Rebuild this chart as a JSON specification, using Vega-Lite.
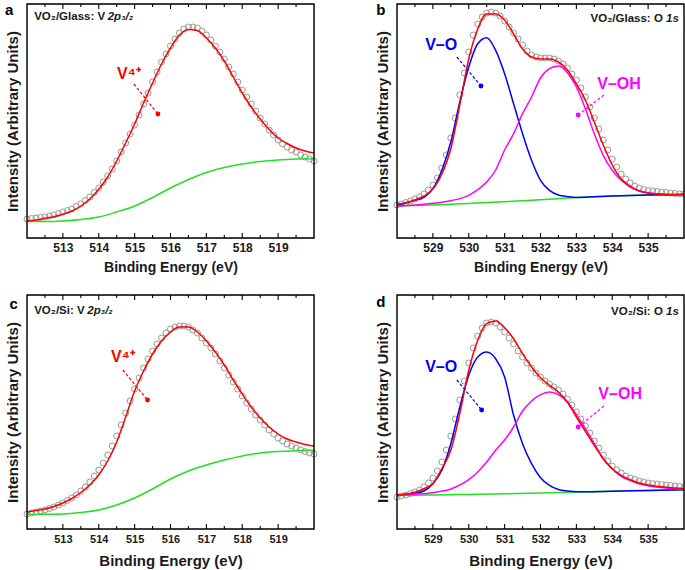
{
"$schema": "https://vega.github.io/schema/vega-lite/v6.json",
"padding": {"left": 4, "top": 2, "right": 0, "bottom": 0},
"autosize": {"type": "pad"},
"background": "white",
"config": {"font": "Liberation Sans"},
"datasets": {
"frame": [{"f": 1}],
"ticks": [
{"p":"a","x":513,"m":"M"},{"p":"a","x":514,"m":"M"},{"p":"a","x":515,"m":"M"},{"p":"a","x":516,"m":"M"},{"p":"a","x":517,"m":"M"},{"p":"a","x":518,"m":"M"},{"p":"a","x":519,"m":"M"},
{"p":"a","x":512.5,"m":"m"},{"p":"a","x":513.5,"m":"m"},{"p":"a","x":514.5,"m":"m"},{"p":"a","x":515.5,"m":"m"},{"p":"a","x":516.5,"m":"m"},{"p":"a","x":517.5,"m":"m"},{"p":"a","x":518.5,"m":"m"},{"p":"a","x":519.5,"m":"m"},
{"p":"c","x":513,"m":"M"},{"p":"c","x":514,"m":"M"},{"p":"c","x":515,"m":"M"},{"p":"c","x":516,"m":"M"},{"p":"c","x":517,"m":"M"},{"p":"c","x":518,"m":"M"},{"p":"c","x":519,"m":"M"},
{"p":"c","x":512.5,"m":"m"},{"p":"c","x":513.5,"m":"m"},{"p":"c","x":514.5,"m":"m"},{"p":"c","x":515.5,"m":"m"},{"p":"c","x":516.5,"m":"m"},{"p":"c","x":517.5,"m":"m"},{"p":"c","x":518.5,"m":"m"},{"p":"c","x":519.5,"m":"m"},
{"p":"b","x":529,"m":"M"},{"p":"b","x":530,"m":"M"},{"p":"b","x":531,"m":"M"},{"p":"b","x":532,"m":"M"},{"p":"b","x":533,"m":"M"},{"p":"b","x":534,"m":"M"},{"p":"b","x":535,"m":"M"},
{"p":"b","x":528.5,"m":"m"},{"p":"b","x":529.5,"m":"m"},{"p":"b","x":530.5,"m":"m"},{"p":"b","x":531.5,"m":"m"},{"p":"b","x":532.5,"m":"m"},{"p":"b","x":533.5,"m":"m"},{"p":"b","x":534.5,"m":"m"},{"p":"b","x":535.5,"m":"m"},
{"p":"d","x":529,"m":"M"},{"p":"d","x":530,"m":"M"},{"p":"d","x":531,"m":"M"},{"p":"d","x":532,"m":"M"},{"p":"d","x":533,"m":"M"},{"p":"d","x":534,"m":"M"},{"p":"d","x":535,"m":"M"},
{"p":"d","x":528.5,"m":"m"},{"p":"d","x":529.5,"m":"m"},{"p":"d","x":530.5,"m":"m"},{"p":"d","x":531.5,"m":"m"},{"p":"d","x":532.5,"m":"m"},{"p":"d","x":533.5,"m":"m"},{"p":"d","x":534.5,"m":"m"},{"p":"d","x":535.5,"m":"m"}
],
"pts": [
{"p":"a","x":512,"y":19},{"p":"a","x":512.125,"y":19.5},{"p":"a","x":512.25,"y":20},{"p":"a","x":512.375,"y":20.5},{"p":"a","x":512.5,"y":21},{"p":"a","x":512.625,"y":22},{"p":"a","x":512.75,"y":23},{"p":"a","x":512.875,"y":24.5},{"p":"a","x":513,"y":26},{"p":"a","x":513.125,"y":27.5},{"p":"a","x":513.25,"y":29},{"p":"a","x":513.375,"y":31.5},{"p":"a","x":513.5,"y":34},{"p":"a","x":513.625,"y":37.5},{"p":"a","x":513.75,"y":41},{"p":"a","x":513.875,"y":45.5},{"p":"a","x":514,"y":50},{"p":"a","x":514.125,"y":56},{"p":"a","x":514.25,"y":62},{"p":"a","x":514.375,"y":69},{"p":"a","x":514.5,"y":77},{"p":"a","x":514.625,"y":86},{"p":"a","x":514.75,"y":95},{"p":"a","x":514.875,"y":104},{"p":"a","x":515,"y":113},{"p":"a","x":515.125,"y":123},{"p":"a","x":515.25,"y":134},{"p":"a","x":515.375,"y":145},{"p":"a","x":515.5,"y":156},{"p":"a","x":515.625,"y":166},{"p":"a","x":515.75,"y":176},{"p":"a","x":515.875,"y":184},{"p":"a","x":516,"y":192},{"p":"a","x":516.125,"y":199},{"p":"a","x":516.25,"y":205},{"p":"a","x":516.375,"y":209},{"p":"a","x":516.5,"y":211},{"p":"a","x":516.625,"y":211},{"p":"a","x":516.75,"y":210},{"p":"a","x":516.875,"y":207},{"p":"a","x":517,"y":203},{"p":"a","x":517.125,"y":198},{"p":"a","x":517.25,"y":192},{"p":"a","x":517.375,"y":186},{"p":"a","x":517.5,"y":179},{"p":"a","x":517.625,"y":171},{"p":"a","x":517.75,"y":164},{"p":"a","x":517.875,"y":156},{"p":"a","x":518,"y":148},{"p":"a","x":518.125,"y":141},{"p":"a","x":518.25,"y":134},{"p":"a","x":518.375,"y":127},{"p":"a","x":518.5,"y":120},{"p":"a","x":518.625,"y":114},{"p":"a","x":518.75,"y":108},{"p":"a","x":518.875,"y":103},{"p":"a","x":519,"y":98},{"p":"a","x":519.125,"y":94},{"p":"a","x":519.25,"y":91},{"p":"a","x":519.375,"y":88},{"p":"a","x":519.5,"y":86},{"p":"a","x":519.625,"y":83},{"p":"a","x":519.75,"y":81},{"p":"a","x":519.875,"y":79},{"p":"a","x":520,"y":77},
{"p":"b","x":528,"y":33},{"p":"b","x":528.125,"y":34},{"p":"b","x":528.25,"y":35.5},{"p":"b","x":528.375,"y":37},{"p":"b","x":528.5,"y":39},{"p":"b","x":528.625,"y":41},{"p":"b","x":528.75,"y":44},{"p":"b","x":528.875,"y":48},{"p":"b","x":529,"y":53},{"p":"b","x":529.125,"y":60},{"p":"b","x":529.25,"y":70},{"p":"b","x":529.375,"y":83},{"p":"b","x":529.5,"y":100},{"p":"b","x":529.625,"y":120},{"p":"b","x":529.75,"y":143},{"p":"b","x":529.875,"y":165},{"p":"b","x":530,"y":186},{"p":"b","x":530.125,"y":203},{"p":"b","x":530.25,"y":214},{"p":"b","x":530.375,"y":221},{"p":"b","x":530.5,"y":225},{"p":"b","x":530.625,"y":226},{"p":"b","x":530.75,"y":225},{"p":"b","x":530.875,"y":222},{"p":"b","x":531,"y":217},{"p":"b","x":531.125,"y":211},{"p":"b","x":531.25,"y":205},{"p":"b","x":531.375,"y":199},{"p":"b","x":531.5,"y":193},{"p":"b","x":531.625,"y":187},{"p":"b","x":531.75,"y":183},{"p":"b","x":531.875,"y":181},{"p":"b","x":532,"y":180},{"p":"b","x":532.125,"y":180},{"p":"b","x":532.25,"y":180},{"p":"b","x":532.375,"y":179},{"p":"b","x":532.5,"y":177},{"p":"b","x":532.625,"y":174},{"p":"b","x":532.75,"y":170},{"p":"b","x":532.875,"y":164},{"p":"b","x":533,"y":158},{"p":"b","x":533.125,"y":150},{"p":"b","x":533.25,"y":141},{"p":"b","x":533.375,"y":131},{"p":"b","x":533.5,"y":120},{"p":"b","x":533.625,"y":109},{"p":"b","x":533.75,"y":98},{"p":"b","x":533.875,"y":88},{"p":"b","x":534,"y":79},{"p":"b","x":534.125,"y":71},{"p":"b","x":534.25,"y":64},{"p":"b","x":534.375,"y":59},{"p":"b","x":534.5,"y":55},{"p":"b","x":534.625,"y":52},{"p":"b","x":534.75,"y":50},{"p":"b","x":534.875,"y":48.5},{"p":"b","x":535,"y":47.5},{"p":"b","x":535.125,"y":47},{"p":"b","x":535.25,"y":46.5},{"p":"b","x":535.375,"y":46},{"p":"b","x":535.5,"y":45.5},{"p":"b","x":535.625,"y":45},{"p":"b","x":535.75,"y":44.5},{"p":"b","x":535.875,"y":44},{"p":"b","x":536,"y":44},
{"p":"c","x":512,"y":15},{"p":"c","x":512.125,"y":16},{"p":"c","x":512.25,"y":17},{"p":"c","x":512.375,"y":18},{"p":"c","x":512.5,"y":19},{"p":"c","x":512.625,"y":20.5},{"p":"c","x":512.75,"y":22},{"p":"c","x":512.875,"y":24},{"p":"c","x":513,"y":26},{"p":"c","x":513.125,"y":28.5},{"p":"c","x":513.25,"y":31},{"p":"c","x":513.375,"y":34},{"p":"c","x":513.5,"y":38},{"p":"c","x":513.625,"y":42},{"p":"c","x":513.75,"y":47},{"p":"c","x":513.875,"y":53},{"p":"c","x":514,"y":59},{"p":"c","x":514.125,"y":66},{"p":"c","x":514.25,"y":74},{"p":"c","x":514.375,"y":83},{"p":"c","x":514.5,"y":93},{"p":"c","x":514.625,"y":104},{"p":"c","x":514.75,"y":116},{"p":"c","x":514.875,"y":128},{"p":"c","x":515,"y":140},{"p":"c","x":515.125,"y":151},{"p":"c","x":515.25,"y":161},{"p":"c","x":515.375,"y":170},{"p":"c","x":515.5,"y":178},{"p":"c","x":515.625,"y":185},{"p":"c","x":515.75,"y":191},{"p":"c","x":515.875,"y":196},{"p":"c","x":516,"y":200},{"p":"c","x":516.125,"y":202},{"p":"c","x":516.25,"y":203},{"p":"c","x":516.375,"y":203},{"p":"c","x":516.5,"y":202},{"p":"c","x":516.625,"y":199},{"p":"c","x":516.75,"y":196},{"p":"c","x":516.875,"y":191},{"p":"c","x":517,"y":186},{"p":"c","x":517.125,"y":181},{"p":"c","x":517.25,"y":175},{"p":"c","x":517.375,"y":168},{"p":"c","x":517.5,"y":161},{"p":"c","x":517.625,"y":154},{"p":"c","x":517.75,"y":147},{"p":"c","x":517.875,"y":140},{"p":"c","x":518,"y":133},{"p":"c","x":518.125,"y":126},{"p":"c","x":518.25,"y":120},{"p":"c","x":518.375,"y":114},{"p":"c","x":518.5,"y":109},{"p":"c","x":518.625,"y":104},{"p":"c","x":518.75,"y":99},{"p":"c","x":518.875,"y":95},{"p":"c","x":519,"y":91},{"p":"c","x":519.125,"y":88},{"p":"c","x":519.25,"y":85},{"p":"c","x":519.375,"y":83},{"p":"c","x":519.5,"y":81},{"p":"c","x":519.625,"y":79},{"p":"c","x":519.75,"y":77.5},{"p":"c","x":519.875,"y":76},{"p":"c","x":520,"y":75},
{"p":"d","x":528,"y":32},{"p":"d","x":528.125,"y":33},{"p":"d","x":528.25,"y":34},{"p":"d","x":528.375,"y":35.5},{"p":"d","x":528.5,"y":37},{"p":"d","x":528.625,"y":39},{"p":"d","x":528.75,"y":42},{"p":"d","x":528.875,"y":46},{"p":"d","x":529,"y":51},{"p":"d","x":529.125,"y":58},{"p":"d","x":529.25,"y":67},{"p":"d","x":529.375,"y":79},{"p":"d","x":529.5,"y":93},{"p":"d","x":529.625,"y":110},{"p":"d","x":529.75,"y":129},{"p":"d","x":529.875,"y":148},{"p":"d","x":530,"y":166},{"p":"d","x":530.125,"y":181},{"p":"d","x":530.25,"y":193},{"p":"d","x":530.375,"y":201},{"p":"d","x":530.5,"y":206},{"p":"d","x":530.625,"y":207},{"p":"d","x":530.75,"y":206},{"p":"d","x":530.875,"y":202},{"p":"d","x":531,"y":197},{"p":"d","x":531.125,"y":191},{"p":"d","x":531.25,"y":185},{"p":"d","x":531.375,"y":178},{"p":"d","x":531.5,"y":172},{"p":"d","x":531.625,"y":166},{"p":"d","x":531.75,"y":161},{"p":"d","x":531.875,"y":156},{"p":"d","x":532,"y":152},{"p":"d","x":532.125,"y":148},{"p":"d","x":532.25,"y":145},{"p":"d","x":532.375,"y":142},{"p":"d","x":532.5,"y":139},{"p":"d","x":532.625,"y":135},{"p":"d","x":532.75,"y":130},{"p":"d","x":532.875,"y":124},{"p":"d","x":533,"y":117},{"p":"d","x":533.125,"y":110},{"p":"d","x":533.25,"y":103},{"p":"d","x":533.375,"y":96},{"p":"d","x":533.5,"y":88},{"p":"d","x":533.625,"y":81},{"p":"d","x":533.75,"y":74},{"p":"d","x":533.875,"y":68},{"p":"d","x":534,"y":63},{"p":"d","x":534.125,"y":59},{"p":"d","x":534.25,"y":56},{"p":"d","x":534.375,"y":53},{"p":"d","x":534.5,"y":51},{"p":"d","x":534.625,"y":49.5},{"p":"d","x":534.75,"y":48},{"p":"d","x":534.875,"y":47},{"p":"d","x":535,"y":46},{"p":"d","x":535.125,"y":45.5},{"p":"d","x":535.25,"y":45},{"p":"d","x":535.375,"y":44.5},{"p":"d","x":535.5,"y":44},{"p":"d","x":535.625,"y":43.5},{"p":"d","x":535.75,"y":43},{"p":"d","x":535.875,"y":42.5},{"p":"d","x":536,"y":42}
],
"curves": [
{"p":"a","s":"bg","x":512,"y":16.5},{"p":"a","s":"bg","x":512.5,"y":16.5},{"p":"a","s":"bg","x":513,"y":17},{"p":"a","s":"bg","x":513.5,"y":18.5},{"p":"a","s":"bg","x":514,"y":21},{"p":"a","s":"bg","x":514.5,"y":26},{"p":"a","s":"bg","x":515,"y":32},{"p":"a","s":"bg","x":515.5,"y":40.5},{"p":"a","s":"bg","x":516,"y":50},{"p":"a","s":"bg","x":516.5,"y":58.5},{"p":"a","s":"bg","x":517,"y":65.5},{"p":"a","s":"bg","x":517.5,"y":70.5},{"p":"a","s":"bg","x":518,"y":74},{"p":"a","s":"bg","x":518.5,"y":76.5},{"p":"a","s":"bg","x":519,"y":78},{"p":"a","s":"bg","x":519.5,"y":79},{"p":"a","s":"bg","x":520,"y":79.5},
{"p":"a","s":"fit","x":512,"y":17},{"p":"a","s":"fit","x":512.25,"y":18},{"p":"a","s":"fit","x":512.5,"y":19.7},{"p":"a","s":"fit","x":512.75,"y":21.3},{"p":"a","s":"fit","x":513,"y":23.7},{"p":"a","s":"fit","x":513.25,"y":27},{"p":"a","s":"fit","x":513.5,"y":32},{"p":"a","s":"fit","x":513.75,"y":39},{"p":"a","s":"fit","x":514,"y":48.7},{"p":"a","s":"fit","x":514.25,"y":61},{"p":"a","s":"fit","x":514.5,"y":77},{"p":"a","s":"fit","x":514.75,"y":95},{"p":"a","s":"fit","x":515,"y":114},{"p":"a","s":"fit","x":515.25,"y":135},{"p":"a","s":"fit","x":515.5,"y":155},{"p":"a","s":"fit","x":515.75,"y":174},{"p":"a","s":"fit","x":516,"y":190},{"p":"a","s":"fit","x":516.25,"y":203},{"p":"a","s":"fit","x":516.5,"y":208.5},{"p":"a","s":"fit","x":516.75,"y":207.5},{"p":"a","s":"fit","x":517,"y":200},{"p":"a","s":"fit","x":517.25,"y":190},{"p":"a","s":"fit","x":517.5,"y":177},{"p":"a","s":"fit","x":517.75,"y":161},{"p":"a","s":"fit","x":518,"y":145},{"p":"a","s":"fit","x":518.25,"y":131},{"p":"a","s":"fit","x":518.5,"y":119},{"p":"a","s":"fit","x":518.75,"y":108.5},{"p":"a","s":"fit","x":519,"y":100},{"p":"a","s":"fit","x":519.25,"y":94.5},{"p":"a","s":"fit","x":519.5,"y":90},{"p":"a","s":"fit","x":519.75,"y":87},{"p":"a","s":"fit","x":520,"y":85},
{"p":"c","s":"bg","x":512,"y":14.5},{"p":"c","s":"bg","x":512.5,"y":14.7},{"p":"c","s":"bg","x":513,"y":15},{"p":"c","s":"bg","x":513.5,"y":16.5},{"p":"c","s":"bg","x":514,"y":19},{"p":"c","s":"bg","x":514.5,"y":24},{"p":"c","s":"bg","x":515,"y":31},{"p":"c","s":"bg","x":515.5,"y":40},{"p":"c","s":"bg","x":516,"y":50},{"p":"c","s":"bg","x":516.5,"y":58},{"p":"c","s":"bg","x":517,"y":64},{"p":"c","s":"bg","x":517.5,"y":69},{"p":"c","s":"bg","x":518,"y":73},{"p":"c","s":"bg","x":518.5,"y":76},{"p":"c","s":"bg","x":519,"y":77.5},{"p":"c","s":"bg","x":519.5,"y":78.3},{"p":"c","s":"bg","x":520,"y":78.7},
{"p":"c","s":"fit","x":512,"y":17},{"p":"c","s":"fit","x":512.25,"y":18.5},{"p":"c","s":"fit","x":512.5,"y":20},{"p":"c","s":"fit","x":512.75,"y":22.5},{"p":"c","s":"fit","x":513,"y":26},{"p":"c","s":"fit","x":513.25,"y":30.5},{"p":"c","s":"fit","x":513.5,"y":36.5},{"p":"c","s":"fit","x":513.75,"y":44},{"p":"c","s":"fit","x":514,"y":54},{"p":"c","s":"fit","x":514.25,"y":68},{"p":"c","s":"fit","x":514.5,"y":87},{"p":"c","s":"fit","x":514.75,"y":112},{"p":"c","s":"fit","x":515,"y":138},{"p":"c","s":"fit","x":515.25,"y":158},{"p":"c","s":"fit","x":515.5,"y":175},{"p":"c","s":"fit","x":515.75,"y":188},{"p":"c","s":"fit","x":516,"y":197},{"p":"c","s":"fit","x":516.25,"y":202},{"p":"c","s":"fit","x":516.5,"y":202},{"p":"c","s":"fit","x":516.75,"y":197},{"p":"c","s":"fit","x":517,"y":188},{"p":"c","s":"fit","x":517.25,"y":177},{"p":"c","s":"fit","x":517.5,"y":164},{"p":"c","s":"fit","x":517.75,"y":149},{"p":"c","s":"fit","x":518,"y":135},{"p":"c","s":"fit","x":518.25,"y":122},{"p":"c","s":"fit","x":518.5,"y":111},{"p":"c","s":"fit","x":518.75,"y":102},{"p":"c","s":"fit","x":519,"y":95},{"p":"c","s":"fit","x":519.25,"y":90},{"p":"c","s":"fit","x":519.5,"y":87},{"p":"c","s":"fit","x":519.75,"y":84.5},{"p":"c","s":"fit","x":520,"y":83},
{"p":"b","s":"bg","x":528,"y":32},{"p":"b","s":"bg","x":528.5,"y":32.5},{"p":"b","s":"bg","x":529,"y":33},{"p":"b","s":"bg","x":529.5,"y":33.8},{"p":"b","s":"bg","x":530,"y":34.6},{"p":"b","s":"bg","x":530.5,"y":35.4},{"p":"b","s":"bg","x":531,"y":36.3},{"p":"b","s":"bg","x":531.5,"y":37.2},{"p":"b","s":"bg","x":532,"y":38.2},{"p":"b","s":"bg","x":532.5,"y":39.3},{"p":"b","s":"bg","x":533,"y":40.4},{"p":"b","s":"bg","x":533.5,"y":41.3},{"p":"b","s":"bg","x":534,"y":42},{"p":"b","s":"bg","x":534.5,"y":42.5},{"p":"b","s":"bg","x":535,"y":42.9},{"p":"b","s":"bg","x":535.5,"y":43.2},{"p":"b","s":"bg","x":536,"y":43.4},
{"p":"b","s":"vo","x":528,"y":32.7},{"p":"b","s":"vo","x":528.25,"y":35},{"p":"b","s":"vo","x":528.5,"y":37.7},{"p":"b","s":"vo","x":528.75,"y":40.7},{"p":"b","s":"vo","x":529,"y":49.3},{"p":"b","s":"vo","x":529.25,"y":67.7},{"p":"b","s":"vo","x":529.5,"y":96},{"p":"b","s":"vo","x":529.75,"y":136},{"p":"b","s":"vo","x":530,"y":171},{"p":"b","s":"vo","x":530.25,"y":194.3},{"p":"b","s":"vo","x":530.5,"y":200.3},{"p":"b","s":"vo","x":530.75,"y":187.7},{"p":"b","s":"vo","x":531,"y":164.3},{"p":"b","s":"vo","x":531.25,"y":134.3},{"p":"b","s":"vo","x":531.5,"y":104.3},{"p":"b","s":"vo","x":531.75,"y":77.7},{"p":"b","s":"vo","x":532,"y":57.7},{"p":"b","s":"vo","x":532.25,"y":47.7},{"p":"b","s":"vo","x":532.5,"y":43},{"p":"b","s":"vo","x":532.75,"y":41.5},{"p":"b","s":"vo","x":533,"y":40.6},{"p":"b","s":"vo","x":533.5,"y":41.3},{"p":"b","s":"vo","x":534,"y":42},{"p":"b","s":"vo","x":535,"y":42.9},{"p":"b","s":"vo","x":536,"y":43.4},
{"p":"b","s":"voh","x":528,"y":32},{"p":"b","s":"voh","x":528.5,"y":33},{"p":"b","s":"voh","x":529,"y":34.7},{"p":"b","s":"voh","x":529.5,"y":37.3},{"p":"b","s":"voh","x":530,"y":42.7},{"p":"b","s":"voh","x":530.25,"y":48.3},{"p":"b","s":"voh","x":530.5,"y":56},{"p":"b","s":"voh","x":530.75,"y":68},{"p":"b","s":"voh","x":531,"y":88},{"p":"b","s":"voh","x":531.25,"y":104.3},{"p":"b","s":"voh","x":531.5,"y":124.3},{"p":"b","s":"voh","x":531.75,"y":141},{"p":"b","s":"voh","x":532,"y":160},{"p":"b","s":"voh","x":532.25,"y":169.3},{"p":"b","s":"voh","x":532.5,"y":172},{"p":"b","s":"voh","x":532.75,"y":165.3},{"p":"b","s":"voh","x":533,"y":151},{"p":"b","s":"voh","x":533.25,"y":129.3},{"p":"b","s":"voh","x":533.5,"y":104.3},{"p":"b","s":"voh","x":533.75,"y":82.7},{"p":"b","s":"voh","x":534,"y":67.7},{"p":"b","s":"voh","x":534.25,"y":57.7},{"p":"b","s":"voh","x":534.5,"y":51},{"p":"b","s":"voh","x":534.75,"y":47.3},{"p":"b","s":"voh","x":535,"y":45.3},{"p":"b","s":"voh","x":535.5,"y":43.7},{"p":"b","s":"voh","x":536,"y":43.4},
{"p":"b","s":"fit","x":528,"y":33.7},{"p":"b","s":"fit","x":528.25,"y":35.3},{"p":"b","s":"fit","x":528.5,"y":38},{"p":"b","s":"fit","x":528.75,"y":42},{"p":"b","s":"fit","x":529,"y":49},{"p":"b","s":"fit","x":529.25,"y":64},{"p":"b","s":"fit","x":529.5,"y":89},{"p":"b","s":"fit","x":529.75,"y":133},{"p":"b","s":"fit","x":530,"y":179},{"p":"b","s":"fit","x":530.25,"y":209},{"p":"b","s":"fit","x":530.5,"y":224},{"p":"b","s":"fit","x":530.75,"y":224},{"p":"b","s":"fit","x":531,"y":218},{"p":"b","s":"fit","x":531.25,"y":204},{"p":"b","s":"fit","x":531.5,"y":189},{"p":"b","s":"fit","x":531.75,"y":181},{"p":"b","s":"fit","x":532,"y":179},{"p":"b","s":"fit","x":532.25,"y":179},{"p":"b","s":"fit","x":532.5,"y":176},{"p":"b","s":"fit","x":532.75,"y":168},{"p":"b","s":"fit","x":533,"y":154},{"p":"b","s":"fit","x":533.25,"y":138},{"p":"b","s":"fit","x":533.5,"y":116},{"p":"b","s":"fit","x":533.75,"y":93},{"p":"b","s":"fit","x":534,"y":73},{"p":"b","s":"fit","x":534.25,"y":59},{"p":"b","s":"fit","x":534.5,"y":52},{"p":"b","s":"fit","x":534.75,"y":47},{"p":"b","s":"fit","x":535,"y":45},{"p":"b","s":"fit","x":535.25,"y":44},{"p":"b","s":"fit","x":535.5,"y":43.5},{"p":"b","s":"fit","x":535.75,"y":43.3},{"p":"b","s":"fit","x":536,"y":43.5},
{"p":"d","s":"bg","x":528,"y":33.5},{"p":"d","s":"bg","x":528.5,"y":33.7},{"p":"d","s":"bg","x":529,"y":34},{"p":"d","s":"bg","x":529.5,"y":34.3},{"p":"d","s":"bg","x":530,"y":34.6},{"p":"d","s":"bg","x":531,"y":35.3},{"p":"d","s":"bg","x":532,"y":36.1},{"p":"d","s":"bg","x":533,"y":37},{"p":"d","s":"bg","x":534,"y":37.8},{"p":"d","s":"bg","x":535,"y":38.6},{"p":"d","s":"bg","x":536,"y":39.3},
{"p":"d","s":"vo","x":528,"y":33.7},{"p":"d","s":"vo","x":528.25,"y":34.7},{"p":"d","s":"vo","x":528.5,"y":36},{"p":"d","s":"vo","x":528.75,"y":38},{"p":"d","s":"vo","x":529,"y":45.3},{"p":"d","s":"vo","x":529.25,"y":58.7},{"p":"d","s":"vo","x":529.5,"y":85.3},{"p":"d","s":"vo","x":529.75,"y":122},{"p":"d","s":"vo","x":530,"y":153.7},{"p":"d","s":"vo","x":530.25,"y":172},{"p":"d","s":"vo","x":530.5,"y":177},{"p":"d","s":"vo","x":530.75,"y":170.3},{"p":"d","s":"vo","x":531,"y":152},{"p":"d","s":"vo","x":531.25,"y":113.7},{"p":"d","s":"vo","x":531.5,"y":85.3},{"p":"d","s":"vo","x":531.75,"y":65.3},{"p":"d","s":"vo","x":532,"y":51.3},{"p":"d","s":"vo","x":532.25,"y":43.7},{"p":"d","s":"vo","x":532.5,"y":39.5},{"p":"d","s":"vo","x":532.75,"y":38},{"p":"d","s":"vo","x":533,"y":37.2},{"p":"d","s":"vo","x":534,"y":37.8},{"p":"d","s":"vo","x":535,"y":38.6},{"p":"d","s":"vo","x":536,"y":39.3},
{"p":"d","s":"voh","x":528,"y":33.7},{"p":"d","s":"voh","x":528.5,"y":34.7},{"p":"d","s":"voh","x":529,"y":36.3},{"p":"d","s":"voh","x":529.5,"y":40},{"p":"d","s":"voh","x":530,"y":49.3},{"p":"d","s":"voh","x":530.25,"y":57},{"p":"d","s":"voh","x":530.5,"y":67},{"p":"d","s":"voh","x":530.75,"y":78.7},{"p":"d","s":"voh","x":531,"y":89},{"p":"d","s":"voh","x":531.25,"y":102},{"p":"d","s":"voh","x":531.5,"y":118},{"p":"d","s":"voh","x":531.75,"y":128},{"p":"d","s":"voh","x":532,"y":134.3},{"p":"d","s":"voh","x":532.25,"y":137},{"p":"d","s":"voh","x":532.5,"y":134.3},{"p":"d","s":"voh","x":532.75,"y":127},{"p":"d","s":"voh","x":533,"y":114.3},{"p":"d","s":"voh","x":533.25,"y":100.3},{"p":"d","s":"voh","x":533.5,"y":85.3},{"p":"d","s":"voh","x":533.75,"y":70.3},{"p":"d","s":"voh","x":534,"y":60.3},{"p":"d","s":"voh","x":534.25,"y":52.7},{"p":"d","s":"voh","x":534.5,"y":48.7},{"p":"d","s":"voh","x":534.75,"y":45.3},{"p":"d","s":"voh","x":535,"y":43.3},{"p":"d","s":"voh","x":535.5,"y":41},{"p":"d","s":"voh","x":536,"y":39.5},
{"p":"d","s":"fit","x":528,"y":33.7},{"p":"d","s":"fit","x":528.25,"y":35},{"p":"d","s":"fit","x":528.5,"y":36.7},{"p":"d","s":"fit","x":528.75,"y":40.3},{"p":"d","s":"fit","x":529,"y":45.3},{"p":"d","s":"fit","x":529.25,"y":60.3},{"p":"d","s":"fit","x":529.5,"y":78.7},{"p":"d","s":"fit","x":529.75,"y":115.3},{"p":"d","s":"fit","x":530,"y":158.7},{"p":"d","s":"fit","x":530.25,"y":188.7},{"p":"d","s":"fit","x":530.5,"y":205.3},{"p":"d","s":"fit","x":530.75,"y":208},{"p":"d","s":"fit","x":531,"y":201.3},{"p":"d","s":"fit","x":531.25,"y":190.3},{"p":"d","s":"fit","x":531.5,"y":175.3},{"p":"d","s":"fit","x":531.75,"y":162},{"p":"d","s":"fit","x":532,"y":151.3},{"p":"d","s":"fit","x":532.25,"y":143.7},{"p":"d","s":"fit","x":532.5,"y":137},{"p":"d","s":"fit","x":532.75,"y":127},{"p":"d","s":"fit","x":533,"y":112},{"p":"d","s":"fit","x":533.25,"y":97.7},{"p":"d","s":"fit","x":533.5,"y":83.7},{"p":"d","s":"fit","x":533.75,"y":70.3},{"p":"d","s":"fit","x":534,"y":60.3},{"p":"d","s":"fit","x":534.25,"y":53.7},{"p":"d","s":"fit","x":534.5,"y":49.3},{"p":"d","s":"fit","x":534.75,"y":46},{"p":"d","s":"fit","x":535,"y":44},{"p":"d","s":"fit","x":535.25,"y":42.7},{"p":"d","s":"fit","x":535.5,"y":41.7},{"p":"d","s":"fit","x":535.75,"y":41},{"p":"d","s":"fit","x":536,"y":40.3}
],
"ptr": [
{"p":"a","s":"fit","x":514.98,"y":154,"x2":515.65,"y2":124},
{"p":"b","s":"vo","x":529.67,"y":181,"x2":530.34,"y2":152},
{"p":"b","s":"voh","x":533.77,"y":143,"x2":533.05,"y2":123},
{"p":"c","s":"fit","x":514.67,"y":159,"x2":515.36,"y2":129},
{"p":"d","s":"vo","x":529.67,"y":149,"x2":530.36,"y2":119},
{"p":"d","s":"voh","x":533.77,"y":123,"x2":533.05,"y2":102}
],
"ann": [
{"p":"a","k":"lab","s":"fit","t":"V⁴⁺","x":514.84,"y":164},
{"p":"a","k":"hd","t":"VO₂/Glass: V","x":512.2,"y":221},
{"p":"a","k":"it","t":"2p₃/₂","x":514.25,"y":221},
{"p":"a","k":"let","t":"a","x":511.5,"y":228},
{"p":"b","k":"lab","s":"vo","t":"V–O","x":529.23,"y":193},
{"p":"b","k":"lab","s":"voh","t":"V–OH","x":534.19,"y":154},
{"p":"b","k":"hd","t":"VO₂/Glass: O","x":535.41,"y":219},
{"p":"b","k":"it","t":"1s","x":535.5,"y":219},
{"p":"b","k":"let","t":"b","x":527.55,"y":228},
{"p":"c","k":"lab","s":"fit","t":"V⁴⁺","x":514.67,"y":172},
{"p":"c","k":"hd","t":"VO₂/Si: V","x":512.2,"y":218},
{"p":"c","k":"it","t":"2p₃/₂","x":513.68,"y":218},
{"p":"c","k":"let","t":"c","x":511.63,"y":225},
{"p":"d","k":"lab","s":"vo","t":"V–O","x":529.23,"y":162},
{"p":"d","k":"lab","s":"voh","t":"V–OH","x":534.22,"y":135},
{"p":"d","k":"hd","t":"VO₂/Si: O","x":535.41,"y":217},
{"p":"d","k":"it","t":"1s","x":535.5,"y":217},
{"p":"d","k":"let","t":"d","x":527.55,"y":227}
]
},
"columns": 2,
"spacing": {"row": 57, "column": 83},
"bounds": "flush",
"concat": [
{
"width": 287, "height": 234,
"layer": [
{"data": {"name": "pts"}, "transform": [{"filter": "datum.p==='a'"}],
 "mark": {"type": "point", "shape": "circle", "size": 36, "filled": false, "stroke": "#999999", "strokeWidth": 1, "opacity": 1},
 "encoding": {
  "x": {"field": "x", "type": "quantitative", "scale": {"domain": [512, 520], "nice": false, "zero": false}, "axis": {"values": [513,514,515,516,517,518,519], "ticks": false, "domain": false, "grid": false, "labelPadding": 4, "labelFont": "Liberation Sans", "labelFontWeight": "bold", "labelFontSize": 12, "labelColor": "#1a1a1a", "title": "Binding Energy (eV)", "titleFont": "Liberation Sans", "titleFontWeight": "bold", "titleColor": "#1a1a1a", "titleFontSize": 14, "titlePadding": 7}},
  "y": {"field": "y", "type": "quantitative", "scale": {"domain": [0, 234], "nice": false, "zero": false}, "axis": {"title": "Intensity (Arbitrary Units)", "labels": false, "ticks": false, "domain": false, "grid": false, "titleFont": "Liberation Sans", "titleFontWeight": "bold", "titleColor": "#1a1a1a", "titleFontSize": 15, "titlePadding": 7}}}},
{"data": {"name": "curves"}, "transform": [{"filter": "datum.p==='a'"}],
 "mark": {"type": "line", "interpolate": "monotone", "strokeWidth": 1.5},
 "encoding": {
  "x": {"field": "x", "type": "quantitative"},
  "y": {"field": "y", "type": "quantitative"},
  "color": {"field": "s", "type": "nominal", "scale": {"domain": ["fit","bg","vo","voh"], "range": ["#ff0000","#22e022","#0000ff","#ff00ff"]}, "legend": null}}},
{"data": {"name": "ptr"}, "transform": [{"filter": "datum.p==='a'"}],
 "mark": {"type": "rule", "strokeDash": [3, 2], "strokeWidth": 1.2},
 "encoding": {"x": {"field": "x", "type": "quantitative"}, "y": {"field": "y", "type": "quantitative"}, "x2": {"field": "x2"}, "y2": {"field": "y2"}, "color": {"field": "s", "type": "nominal", "legend": null}}},
{"data": {"name": "ptr"}, "transform": [{"filter": "datum.p==='a'"}],
 "mark": {"type": "point", "shape": "circle", "filled": true, "size": 24, "opacity": 1},
 "encoding": {"x": {"field": "x2", "type": "quantitative"}, "y": {"field": "y2", "type": "quantitative"}, "color": {"field": "s", "type": "nominal", "legend": null}}},
{"data": {"name": "ticks"}, "transform": [{"filter": "datum.p==='a' && datum.m==='M'"}],
 "mark": {"type": "rule", "stroke": "#000000", "strokeWidth": 1.1},
 "encoding": {"x": {"field": "x", "type": "quantitative"}, "y": {"datum": 0, "type": "quantitative"}, "y2": {"datum": 5}}},
{"data": {"name": "ticks"}, "transform": [{"filter": "datum.p==='a' && datum.m==='M'"}],
 "mark": {"type": "rule", "stroke": "#000000", "strokeWidth": 1.1},
 "encoding": {"x": {"field": "x", "type": "quantitative"}, "y": {"datum": 234, "type": "quantitative"}, "y2": {"datum": 229}}},
{"data": {"name": "ticks"}, "transform": [{"filter": "datum.p==='a' && datum.m==='m'"}],
 "mark": {"type": "rule", "stroke": "#000000", "strokeWidth": 1.1},
 "encoding": {"x": {"field": "x", "type": "quantitative"}, "y": {"datum": 0, "type": "quantitative"}, "y2": {"datum": 3}}},
{"data": {"name": "ticks"}, "transform": [{"filter": "datum.p==='a' && datum.m==='m'"}],
 "mark": {"type": "rule", "stroke": "#000000", "strokeWidth": 1.1},
 "encoding": {"x": {"field": "x", "type": "quantitative"}, "y": {"datum": 234, "type": "quantitative"}, "y2": {"datum": 231}}},
{"data": {"name": "frame"},
 "mark": {"type": "rect", "filled": false, "stroke": "#000000", "strokeWidth": 1.4},
 "encoding": {"x": {"datum": 512, "type": "quantitative"}, "x2": {"datum": 520}, "y": {"datum": 0, "type": "quantitative"}, "y2": {"datum": 234}}},
{"data": {"name": "ann"}, "transform": [{"filter": "datum.p==='a' && datum.k==='lab'"}],
 "mark": {"type": "text", "font": "Liberation Sans", "fontSize": 16, "fontWeight": "bold", "align": "center"},
 "encoding": {"x": {"field": "x", "type": "quantitative"}, "y": {"field": "y", "type": "quantitative"}, "text": {"field": "t"}, "color": {"field": "s", "type": "nominal", "legend": null}}},
{"data": {"name": "ann"}, "transform": [{"filter": "datum.p==='a' && datum.k==='hd'"}],
 "mark": {"type": "text", "font": "Liberation Sans", "fontSize": 11.5, "fontWeight": "bold", "align": "left", "color": "#1a1a1a"},
 "encoding": {"x": {"field": "x", "type": "quantitative"}, "y": {"field": "y", "type": "quantitative"}, "text": {"field": "t"}}},
{"data": {"name": "ann"}, "transform": [{"filter": "datum.p==='a' && datum.k==='it'"}],
 "mark": {"type": "text", "font": "Liberation Sans", "fontSize": 11.5, "fontWeight": "bold", "fontStyle": "italic", "align": "left", "color": "#1a1a1a"},
 "encoding": {"x": {"field": "x", "type": "quantitative"}, "y": {"field": "y", "type": "quantitative"}, "text": {"field": "t"}}},
{"data": {"name": "ann"}, "transform": [{"filter": "datum.p==='a' && datum.k==='let'"}],
 "mark": {"type": "text", "font": "Liberation Sans", "fontSize": 15, "fontWeight": "bold", "align": "center", "color": "#000"},
 "encoding": {"x": {"field": "x", "type": "quantitative"}, "y": {"field": "y", "type": "quantitative"}, "text": {"field": "t"}}}
]
},
{
"width": 287, "height": 234,
"layer": [
{"data": {"name": "pts"}, "transform": [{"filter": "datum.p==='b'"}],
 "mark": {"type": "point", "shape": "circle", "size": 36, "filled": false, "stroke": "#999999", "strokeWidth": 1, "opacity": 1},
 "encoding": {
  "x": {"field": "x", "type": "quantitative", "scale": {"domain": [528, 536], "nice": false, "zero": false}, "axis": {"values": [529,530,531,532,533,534,535], "ticks": false, "domain": false, "grid": false, "labelPadding": 4, "labelFont": "Liberation Sans", "labelFontWeight": "bold", "labelFontSize": 12, "labelColor": "#1a1a1a", "title": "Binding Energy (eV)", "titleFont": "Liberation Sans", "titleFontWeight": "bold", "titleColor": "#1a1a1a", "titleFontSize": 14, "titlePadding": 7}},
  "y": {"field": "y", "type": "quantitative", "scale": {"domain": [0, 234], "nice": false, "zero": false}, "axis": {"title": "Intensity (Arbitrary Units)", "labels": false, "ticks": false, "domain": false, "grid": false, "titleFont": "Liberation Sans", "titleFontWeight": "bold", "titleColor": "#1a1a1a", "titleFontSize": 15, "titlePadding": 7}}}},
{"data": {"name": "curves"}, "transform": [{"filter": "datum.p==='b'"}],
 "mark": {"type": "line", "interpolate": "monotone", "strokeWidth": 1.5},
 "encoding": {
  "x": {"field": "x", "type": "quantitative"},
  "y": {"field": "y", "type": "quantitative"},
  "color": {"field": "s", "type": "nominal", "scale": {"domain": ["fit","bg","vo","voh"], "range": ["#ff0000","#22e022","#0000ff","#ff00ff"]}, "legend": null}}},
{"data": {"name": "ptr"}, "transform": [{"filter": "datum.p==='b'"}],
 "mark": {"type": "rule", "strokeDash": [3, 2], "strokeWidth": 1.2},
 "encoding": {"x": {"field": "x", "type": "quantitative"}, "y": {"field": "y", "type": "quantitative"}, "x2": {"field": "x2"}, "y2": {"field": "y2"}, "color": {"field": "s", "type": "nominal", "legend": null}}},
{"data": {"name": "ptr"}, "transform": [{"filter": "datum.p==='b'"}],
 "mark": {"type": "point", "shape": "circle", "filled": true, "size": 24, "opacity": 1},
 "encoding": {"x": {"field": "x2", "type": "quantitative"}, "y": {"field": "y2", "type": "quantitative"}, "color": {"field": "s", "type": "nominal", "legend": null}}},
{"data": {"name": "ticks"}, "transform": [{"filter": "datum.p==='b' && datum.m==='M'"}],
 "mark": {"type": "rule", "stroke": "#000000", "strokeWidth": 1.1},
 "encoding": {"x": {"field": "x", "type": "quantitative"}, "y": {"datum": 0, "type": "quantitative"}, "y2": {"datum": 5}}},
{"data": {"name": "ticks"}, "transform": [{"filter": "datum.p==='b' && datum.m==='M'"}],
 "mark": {"type": "rule", "stroke": "#000000", "strokeWidth": 1.1},
 "encoding": {"x": {"field": "x", "type": "quantitative"}, "y": {"datum": 234, "type": "quantitative"}, "y2": {"datum": 229}}},
{"data": {"name": "ticks"}, "transform": [{"filter": "datum.p==='b' && datum.m==='m'"}],
 "mark": {"type": "rule", "stroke": "#000000", "strokeWidth": 1.1},
 "encoding": {"x": {"field": "x", "type": "quantitative"}, "y": {"datum": 0, "type": "quantitative"}, "y2": {"datum": 3}}},
{"data": {"name": "ticks"}, "transform": [{"filter": "datum.p==='b' && datum.m==='m'"}],
 "mark": {"type": "rule", "stroke": "#000000", "strokeWidth": 1.1},
 "encoding": {"x": {"field": "x", "type": "quantitative"}, "y": {"datum": 234, "type": "quantitative"}, "y2": {"datum": 231}}},
{"data": {"name": "frame"},
 "mark": {"type": "rect", "filled": false, "stroke": "#000000", "strokeWidth": 1.4},
 "encoding": {"x": {"datum": 528, "type": "quantitative"}, "x2": {"datum": 536}, "y": {"datum": 0, "type": "quantitative"}, "y2": {"datum": 234}}},
{"data": {"name": "ann"}, "transform": [{"filter": "datum.p==='b' && datum.k==='lab'"}],
 "mark": {"type": "text", "font": "Liberation Sans", "fontSize": 16, "fontWeight": "bold", "align": "center"},
 "encoding": {"x": {"field": "x", "type": "quantitative"}, "y": {"field": "y", "type": "quantitative"}, "text": {"field": "t"}, "color": {"field": "s", "type": "nominal", "legend": null}}},
{"data": {"name": "ann"}, "transform": [{"filter": "datum.p==='b' && datum.k==='hd'"}],
 "mark": {"type": "text", "font": "Liberation Sans", "fontSize": 11.5, "fontWeight": "bold", "align": "right", "color": "#1a1a1a"},
 "encoding": {"x": {"field": "x", "type": "quantitative"}, "y": {"field": "y", "type": "quantitative"}, "text": {"field": "t"}}},
{"data": {"name": "ann"}, "transform": [{"filter": "datum.p==='b' && datum.k==='it'"}],
 "mark": {"type": "text", "font": "Liberation Sans", "fontSize": 11.5, "fontWeight": "bold", "fontStyle": "italic", "align": "left", "color": "#1a1a1a"},
 "encoding": {"x": {"field": "x", "type": "quantitative"}, "y": {"field": "y", "type": "quantitative"}, "text": {"field": "t"}}},
{"data": {"name": "ann"}, "transform": [{"filter": "datum.p==='b' && datum.k==='let'"}],
 "mark": {"type": "text", "font": "Liberation Sans", "fontSize": 15, "fontWeight": "bold", "align": "center", "color": "#000"},
 "encoding": {"x": {"field": "x", "type": "quantitative"}, "y": {"field": "y", "type": "quantitative"}, "text": {"field": "t"}}}
]
},
{
"width": 287, "height": 234,
"layer": [
{"data": {"name": "pts"}, "transform": [{"filter": "datum.p==='c'"}],
 "mark": {"type": "point", "shape": "circle", "size": 36, "filled": false, "stroke": "#999999", "strokeWidth": 1, "opacity": 1},
 "encoding": {
  "x": {"field": "x", "type": "quantitative", "scale": {"domain": [512, 520], "nice": false, "zero": false}, "axis": {"values": [513,514,515,516,517,518,519], "ticks": false, "domain": false, "grid": false, "labelPadding": 4, "labelFont": "Liberation Sans", "labelFontWeight": "bold", "labelFontSize": 11, "labelColor": "#1a1a1a", "title": "Binding Energy (eV)", "titleFont": "Liberation Sans", "titleFontWeight": "bold", "titleColor": "#1a1a1a", "titleFontSize": 15, "titlePadding": 9}},
  "y": {"field": "y", "type": "quantitative", "scale": {"domain": [0, 234], "nice": false, "zero": false}, "axis": {"title": "Intensity (Arbitrary Units)", "labels": false, "ticks": false, "domain": false, "grid": false, "titleFont": "Liberation Sans", "titleFontWeight": "bold", "titleColor": "#1a1a1a", "titleFontSize": 15, "titlePadding": 7}}}},
{"data": {"name": "curves"}, "transform": [{"filter": "datum.p==='c'"}],
 "mark": {"type": "line", "interpolate": "monotone", "strokeWidth": 1.5},
 "encoding": {
  "x": {"field": "x", "type": "quantitative"},
  "y": {"field": "y", "type": "quantitative"},
  "color": {"field": "s", "type": "nominal", "scale": {"domain": ["fit","bg","vo","voh"], "range": ["#ff0000","#22e022","#0000ff","#ff00ff"]}, "legend": null}}},
{"data": {"name": "ptr"}, "transform": [{"filter": "datum.p==='c'"}],
 "mark": {"type": "rule", "strokeDash": [3, 2], "strokeWidth": 1.2},
 "encoding": {"x": {"field": "x", "type": "quantitative"}, "y": {"field": "y", "type": "quantitative"}, "x2": {"field": "x2"}, "y2": {"field": "y2"}, "color": {"field": "s", "type": "nominal", "legend": null}}},
{"data": {"name": "ptr"}, "transform": [{"filter": "datum.p==='c'"}],
 "mark": {"type": "point", "shape": "circle", "filled": true, "size": 24, "opacity": 1},
 "encoding": {"x": {"field": "x2", "type": "quantitative"}, "y": {"field": "y2", "type": "quantitative"}, "color": {"field": "s", "type": "nominal", "legend": null}}},
{"data": {"name": "ticks"}, "transform": [{"filter": "datum.p==='c' && datum.m==='M'"}],
 "mark": {"type": "rule", "stroke": "#000000", "strokeWidth": 1.1},
 "encoding": {"x": {"field": "x", "type": "quantitative"}, "y": {"datum": 0, "type": "quantitative"}, "y2": {"datum": 5}}},
{"data": {"name": "ticks"}, "transform": [{"filter": "datum.p==='c' && datum.m==='M'"}],
 "mark": {"type": "rule", "stroke": "#000000", "strokeWidth": 1.1},
 "encoding": {"x": {"field": "x", "type": "quantitative"}, "y": {"datum": 234, "type": "quantitative"}, "y2": {"datum": 229}}},
{"data": {"name": "ticks"}, "transform": [{"filter": "datum.p==='c' && datum.m==='m'"}],
 "mark": {"type": "rule", "stroke": "#000000", "strokeWidth": 1.1},
 "encoding": {"x": {"field": "x", "type": "quantitative"}, "y": {"datum": 0, "type": "quantitative"}, "y2": {"datum": 3}}},
{"data": {"name": "ticks"}, "transform": [{"filter": "datum.p==='c' && datum.m==='m'"}],
 "mark": {"type": "rule", "stroke": "#000000", "strokeWidth": 1.1},
 "encoding": {"x": {"field": "x", "type": "quantitative"}, "y": {"datum": 234, "type": "quantitative"}, "y2": {"datum": 231}}},
{"data": {"name": "frame"},
 "mark": {"type": "rect", "filled": false, "stroke": "#000000", "strokeWidth": 1.4},
 "encoding": {"x": {"datum": 512, "type": "quantitative"}, "x2": {"datum": 520}, "y": {"datum": 0, "type": "quantitative"}, "y2": {"datum": 234}}},
{"data": {"name": "ann"}, "transform": [{"filter": "datum.p==='c' && datum.k==='lab'"}],
 "mark": {"type": "text", "font": "Liberation Sans", "fontSize": 16, "fontWeight": "bold", "align": "center"},
 "encoding": {"x": {"field": "x", "type": "quantitative"}, "y": {"field": "y", "type": "quantitative"}, "text": {"field": "t"}, "color": {"field": "s", "type": "nominal", "legend": null}}},
{"data": {"name": "ann"}, "transform": [{"filter": "datum.p==='c' && datum.k==='hd'"}],
 "mark": {"type": "text", "font": "Liberation Sans", "fontSize": 11.5, "fontWeight": "bold", "align": "left", "color": "#1a1a1a"},
 "encoding": {"x": {"field": "x", "type": "quantitative"}, "y": {"field": "y", "type": "quantitative"}, "text": {"field": "t"}}},
{"data": {"name": "ann"}, "transform": [{"filter": "datum.p==='c' && datum.k==='it'"}],
 "mark": {"type": "text", "font": "Liberation Sans", "fontSize": 11.5, "fontWeight": "bold", "fontStyle": "italic", "align": "left", "color": "#1a1a1a"},
 "encoding": {"x": {"field": "x", "type": "quantitative"}, "y": {"field": "y", "type": "quantitative"}, "text": {"field": "t"}}},
{"data": {"name": "ann"}, "transform": [{"filter": "datum.p==='c' && datum.k==='let'"}],
 "mark": {"type": "text", "font": "Liberation Sans", "fontSize": 15, "fontWeight": "bold", "align": "center", "color": "#000"},
 "encoding": {"x": {"field": "x", "type": "quantitative"}, "y": {"field": "y", "type": "quantitative"}, "text": {"field": "t"}}}
]
},
{
"width": 287, "height": 234,
"layer": [
{"data": {"name": "pts"}, "transform": [{"filter": "datum.p==='d'"}],
 "mark": {"type": "point", "shape": "circle", "size": 36, "filled": false, "stroke": "#999999", "strokeWidth": 1, "opacity": 1},
 "encoding": {
  "x": {"field": "x", "type": "quantitative", "scale": {"domain": [528, 536], "nice": false, "zero": false}, "axis": {"values": [529,530,531,532,533,534,535], "ticks": false, "domain": false, "grid": false, "labelPadding": 4, "labelFont": "Liberation Sans", "labelFontWeight": "bold", "labelFontSize": 11, "labelColor": "#1a1a1a", "title": "Binding Energy (eV)", "titleFont": "Liberation Sans", "titleFontWeight": "bold", "titleColor": "#1a1a1a", "titleFontSize": 15, "titlePadding": 9}},
  "y": {"field": "y", "type": "quantitative", "scale": {"domain": [0, 234], "nice": false, "zero": false}, "axis": {"title": "Intensity (Arbitrary Units)", "labels": false, "ticks": false, "domain": false, "grid": false, "titleFont": "Liberation Sans", "titleFontWeight": "bold", "titleColor": "#1a1a1a", "titleFontSize": 15, "titlePadding": 7}}}},
{"data": {"name": "curves"}, "transform": [{"filter": "datum.p==='d'"}],
 "mark": {"type": "line", "interpolate": "monotone", "strokeWidth": 1.5},
 "encoding": {
  "x": {"field": "x", "type": "quantitative"},
  "y": {"field": "y", "type": "quantitative"},
  "color": {"field": "s", "type": "nominal", "scale": {"domain": ["fit","bg","vo","voh"], "range": ["#ff0000","#22e022","#0000ff","#ff00ff"]}, "legend": null}}},
{"data": {"name": "ptr"}, "transform": [{"filter": "datum.p==='d'"}],
 "mark": {"type": "rule", "strokeDash": [3, 2], "strokeWidth": 1.2},
 "encoding": {"x": {"field": "x", "type": "quantitative"}, "y": {"field": "y", "type": "quantitative"}, "x2": {"field": "x2"}, "y2": {"field": "y2"}, "color": {"field": "s", "type": "nominal", "legend": null}}},
{"data": {"name": "ptr"}, "transform": [{"filter": "datum.p==='d'"}],
 "mark": {"type": "point", "shape": "circle", "filled": true, "size": 24, "opacity": 1},
 "encoding": {"x": {"field": "x2", "type": "quantitative"}, "y": {"field": "y2", "type": "quantitative"}, "color": {"field": "s", "type": "nominal", "legend": null}}},
{"data": {"name": "ticks"}, "transform": [{"filter": "datum.p==='d' && datum.m==='M'"}],
 "mark": {"type": "rule", "stroke": "#000000", "strokeWidth": 1.1},
 "encoding": {"x": {"field": "x", "type": "quantitative"}, "y": {"datum": 0, "type": "quantitative"}, "y2": {"datum": 5}}},
{"data": {"name": "ticks"}, "transform": [{"filter": "datum.p==='d' && datum.m==='M'"}],
 "mark": {"type": "rule", "stroke": "#000000", "strokeWidth": 1.1},
 "encoding": {"x": {"field": "x", "type": "quantitative"}, "y": {"datum": 234, "type": "quantitative"}, "y2": {"datum": 229}}},
{"data": {"name": "ticks"}, "transform": [{"filter": "datum.p==='d' && datum.m==='m'"}],
 "mark": {"type": "rule", "stroke": "#000000", "strokeWidth": 1.1},
 "encoding": {"x": {"field": "x", "type": "quantitative"}, "y": {"datum": 0, "type": "quantitative"}, "y2": {"datum": 3}}},
{"data": {"name": "ticks"}, "transform": [{"filter": "datum.p==='d' && datum.m==='m'"}],
 "mark": {"type": "rule", "stroke": "#000000", "strokeWidth": 1.1},
 "encoding": {"x": {"field": "x", "type": "quantitative"}, "y": {"datum": 234, "type": "quantitative"}, "y2": {"datum": 231}}},
{"data": {"name": "frame"},
 "mark": {"type": "rect", "filled": false, "stroke": "#000000", "strokeWidth": 1.4},
 "encoding": {"x": {"datum": 528, "type": "quantitative"}, "x2": {"datum": 536}, "y": {"datum": 0, "type": "quantitative"}, "y2": {"datum": 234}}},
{"data": {"name": "ann"}, "transform": [{"filter": "datum.p==='d' && datum.k==='lab'"}],
 "mark": {"type": "text", "font": "Liberation Sans", "fontSize": 16, "fontWeight": "bold", "align": "center"},
 "encoding": {"x": {"field": "x", "type": "quantitative"}, "y": {"field": "y", "type": "quantitative"}, "text": {"field": "t"}, "color": {"field": "s", "type": "nominal", "legend": null}}},
{"data": {"name": "ann"}, "transform": [{"filter": "datum.p==='d' && datum.k==='hd'"}],
 "mark": {"type": "text", "font": "Liberation Sans", "fontSize": 11.5, "fontWeight": "bold", "align": "right", "color": "#1a1a1a"},
 "encoding": {"x": {"field": "x", "type": "quantitative"}, "y": {"field": "y", "type": "quantitative"}, "text": {"field": "t"}}},
{"data": {"name": "ann"}, "transform": [{"filter": "datum.p==='d' && datum.k==='it'"}],
 "mark": {"type": "text", "font": "Liberation Sans", "fontSize": 11.5, "fontWeight": "bold", "fontStyle": "italic", "align": "left", "color": "#1a1a1a"},
 "encoding": {"x": {"field": "x", "type": "quantitative"}, "y": {"field": "y", "type": "quantitative"}, "text": {"field": "t"}}},
{"data": {"name": "ann"}, "transform": [{"filter": "datum.p==='d' && datum.k==='let'"}],
 "mark": {"type": "text", "font": "Liberation Sans", "fontSize": 15, "fontWeight": "bold", "align": "center", "color": "#000"},
 "encoding": {"x": {"field": "x", "type": "quantitative"}, "y": {"field": "y", "type": "quantitative"}, "text": {"field": "t"}}}
]
}
]
}
